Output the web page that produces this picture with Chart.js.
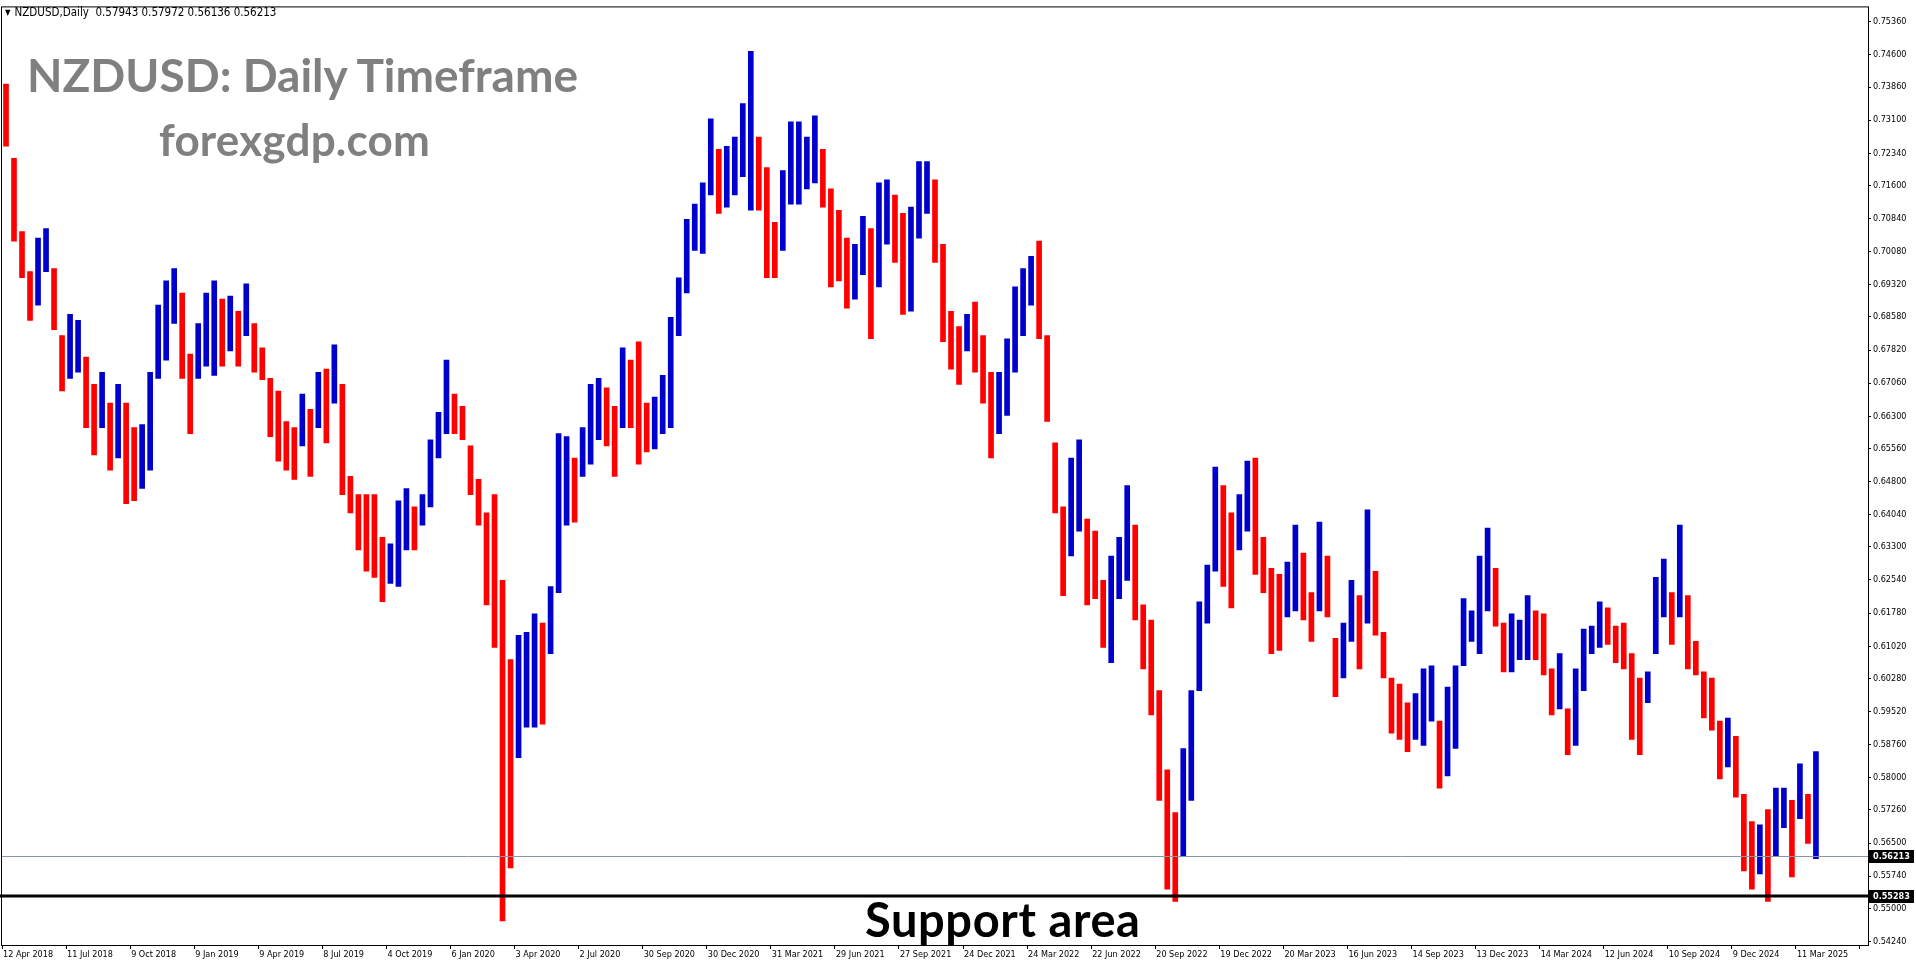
<!DOCTYPE html>
<html>
<head>
<meta charset="utf-8">
<script src="https://cdn.jsdelivr.net/npm/chart.js@4.4.1/dist/chart.umd.min.js"></script>
<style>
  html, body { margin: 0; padding: 0; background: #fff; overflow: hidden; }
  #wrap { position: relative; width: 1916px; height: 964px; }
  canvas { position: absolute; left: 0; top: 0; }
  .txt { position: absolute; white-space: nowrap; line-height: 1; }
  #hdr { left: 5px; top: 5px; font: 11.5px 'DejaVu Sans Condensed', 'DejaVu Sans', sans-serif; color: #000; }
  #hdr .tri { font-size: 8px; margin-right: 4px; vertical-align: 1px; }
  #title { left: 27px; top: 47px; font: bold 46px Lato, sans-serif; color: #808080; }
  #site { left: 159px; top: 113px; font: bold 44px Lato, sans-serif; color: #808080; letter-spacing: 0.2px; }
  #support { left: 865px; top: 891px; font: bold 47px Lato, sans-serif; color: #000; letter-spacing: 0.6px; }
</style>
</head>
<body>
<div id="wrap">
  <canvas id="myChart" width="1916" height="964"></canvas>
  <div class="txt" id="hdr"><span class="tri">&#9660;</span><span id="hdrText"></span></div>
  <div class="txt" id="title">NZDUSD: Daily Timeframe</div>
  <div class="txt" id="site">forexgdp.com</div>
  <div class="txt" id="support">Support area</div>
</div>
<script>
// date labels of the bottom axis (one every 8 points)
const dateLabels = ["12 Apr 2018", "11 Jul 2018", "9 Oct 2018", "9 Jan 2019", "9 Apr 2019", "8 Jul 2019",
  "4 Oct 2019", "6 Jan 2020", "3 Apr 2020", "2 Jul 2020", "30 Sep 2020", "30 Dec 2020", "31 Mar 2021",
  "29 Jun 2021", "27 Sep 2021", "24 Dec 2021", "24 Mar 2022", "22 Jun 2022", "20 Sep 2022", "19 Dec 2022",
  "20 Mar 2023", "16 Jun 2023", "14 Sep 2023", "13 Dec 2023", "14 Mar 2024", "12 Jun 2024", "10 Sep 2024",
  "9 Dec 2024", "11 Mar 2025"];

// price labels of the right axis
const priceTicks = [0.75360, 0.74600, 0.73860, 0.73100, 0.72340, 0.71600, 0.70840, 0.70080, 0.69320,
  0.68580, 0.67820, 0.67060, 0.66300, 0.65560, 0.64800, 0.64040, 0.63300, 0.62540, 0.61780, 0.61020,
  0.60280, 0.59520, 0.58760, 0.58000, 0.57260, 0.56500, 0.55740, 0.55000, 0.54240];

// high / low of each block of ~8 daily bars
const highs = [
  0.7393, 0.7222, 0.7054, 0.6962, 0.7039, 0.7061, 0.6969, 0.6815, 0.6864, 0.6850,
  0.6766, 0.6703, 0.6731, 0.6660, 0.6703, 0.6660, 0.6604, 0.6611, 0.6731, 0.6885,
  0.6941, 0.6969, 0.6913, 0.6773, 0.6843, 0.6913, 0.6941, 0.6899, 0.6906, 0.6871,
  0.6934, 0.6843, 0.6787, 0.6717, 0.6688, 0.6618, 0.6604, 0.6681, 0.6646, 0.6731,
  0.6738,
  0.6794, 0.6703, 0.6492, 0.6450, 0.6450, 0.6450, 0.6352, 0.6337, 0.6436, 0.6464,
  0.6422, 0.6450, 0.6576, 0.6639, 0.6759, 0.6681, 0.6653, 0.6562, 0.6485, 0.6408,
  0.6450, 0.6253, 0.6071, 0.6127, 0.6134, 0.6176, 0.6155, 0.6239, 0.6590, 0.6583,
  0.6534, 0.6604, 0.6703, 0.6717, 0.6695, 0.6653, 0.6787, 0.6759, 0.6801, 0.6660,
  0.6674, 0.6724, 0.6857, 0.6948, 0.7082, 0.7117, 0.7166, 0.7313, 0.7243, 0.7250,
  0.7271, 0.7348, 0.7468, 0.7271, 0.7201, 0.7075, 0.7194, 0.7306, 0.7306, 0.7271,
  0.7320, 0.7243, 0.7152, 0.7103, 0.7039, 0.7025, 0.7089, 0.7061, 0.7166, 0.7173,
  0.7138, 0.7096, 0.7110, 0.7215, 0.7215, 0.7173, 0.7025, 0.6871, 0.6836, 0.6864,
  0.6892, 0.6815, 0.6731, 0.6731, 0.6808, 0.6927, 0.6969, 0.6997, 0.7032, 0.6815,
  0.6569, 0.6422, 0.6534, 0.6576, 0.6394, 0.6366, 0.6253, 0.6309, 0.6352, 0.6471,
  0.6380, 0.6197, 0.6162, 0.6000, 0.5818, 0.5720, 0.5867, 0.6000, 0.6204, 0.6288,
  0.6513, 0.6471, 0.6408, 0.6450, 0.6527, 0.6534, 0.6352, 0.6281, 0.6267, 0.6295,
  0.6380, 0.6316, 0.6225, 0.6387, 0.6309, 0.6120, 0.6155, 0.6253, 0.6218, 0.6415,
  0.6274, 0.6134, 0.6029, 0.6015, 0.5972, 0.5993, 0.6050, 0.6057, 0.5930, 0.6008,
  0.6057, 0.6211, 0.6183, 0.6309, 0.6373, 0.6281, 0.6155, 0.6176, 0.6162, 0.6218,
  0.6183, 0.6176, 0.6050, 0.6085, 0.5958, 0.6050, 0.6141, 0.6148, 0.6204, 0.6190,
  0.6148, 0.6155, 0.6085, 0.6029, 0.6043, 0.6260, 0.6302, 0.6225, 0.6380, 0.6218,
  0.6113, 0.6043, 0.6029, 0.5930, 0.5937, 0.5895, 0.5762, 0.5699, 0.5692, 0.5727,
  0.5776, 0.5776, 0.5748, 0.5832, 0.5762, 0.5860
];
const lows = [
  0.7250, 0.7032, 0.6948, 0.6850, 0.6885, 0.6962, 0.6829, 0.6688, 0.6717, 0.6731,
  0.6604, 0.6541, 0.6604, 0.6506, 0.6534, 0.6429, 0.6436, 0.6464, 0.6506, 0.6717,
  0.6759, 0.6843, 0.6717, 0.6590, 0.6717, 0.6745, 0.6724, 0.6745, 0.6780, 0.6745,
  0.6815, 0.6731, 0.6714, 0.6583, 0.6527, 0.6506, 0.6485, 0.6562, 0.6492, 0.6604,
  0.6569,
  0.6660, 0.6450, 0.6408, 0.6323, 0.6274, 0.6260, 0.6204, 0.6246, 0.6239, 0.6323,
  0.6323, 0.6380, 0.6422, 0.6534, 0.6590, 0.6590, 0.6576, 0.6450, 0.6380, 0.6197,
  0.6099, 0.5471, 0.5593, 0.5846, 0.5916, 0.5916, 0.5923, 0.6085, 0.6225, 0.6380,
  0.6387, 0.6492, 0.6520, 0.6576, 0.6562, 0.6492, 0.6604, 0.6604, 0.6520, 0.6548,
  0.6555, 0.6590, 0.6604, 0.6815, 0.6913, 0.7011, 0.7004, 0.7138, 0.7096, 0.7110,
  0.7138, 0.7180, 0.7103, 0.7103, 0.6948, 0.6948, 0.7011, 0.7117, 0.7117, 0.7152,
  0.7166, 0.7110, 0.6927, 0.6941, 0.6878, 0.6899, 0.6955, 0.6808, 0.6927, 0.7025,
  0.6983, 0.6864, 0.6871, 0.7039, 0.7096, 0.6983, 0.6801, 0.6738, 0.6703, 0.6780,
  0.6731, 0.6660, 0.6534, 0.6590, 0.6632, 0.6731, 0.6815, 0.6885, 0.6808, 0.6618,
  0.6408, 0.6218, 0.6309, 0.6366, 0.6197, 0.6211, 0.6099, 0.6064, 0.6211, 0.6253,
  0.6162, 0.6050, 0.5944, 0.5748, 0.5544, 0.5516, 0.5621, 0.5748, 0.6000, 0.6155,
  0.6274, 0.6239, 0.6190, 0.6323, 0.6366, 0.6267, 0.6225, 0.6085, 0.6092, 0.6169,
  0.6183, 0.6162, 0.6113, 0.6183, 0.6169, 0.5986, 0.6029, 0.6113, 0.6050, 0.6155,
  0.6127, 0.6029, 0.5902, 0.5888, 0.5860, 0.5888, 0.5874, 0.5930, 0.5776, 0.5804,
  0.5867, 0.6057, 0.6113, 0.6085, 0.6183, 0.6148, 0.6043, 0.6043, 0.6071, 0.6071,
  0.6071, 0.6036, 0.5944, 0.5958, 0.5853, 0.5874, 0.6000, 0.6085, 0.6099, 0.6106,
  0.6064, 0.6050, 0.5888, 0.5853, 0.5972, 0.6085, 0.6169, 0.6106, 0.6169, 0.6050,
  0.6036, 0.5937, 0.5909, 0.5797, 0.5825, 0.5755, 0.5586, 0.5544, 0.5579, 0.5516,
  0.5621, 0.5685, 0.5572, 0.5706, 0.5649, 0.5614
];

const symbolName = "NZDUSD,Daily";
const lastOHLC = [0.57943, 0.57972, 0.56136, 0.56213];
const currentPrice = 0.56213;
const supportLevel = 0.55283;

const pointsPerLabel = 8;
const slotCount = 233;   // a few empty slots on the right, like the terminal
const upColor = "#0000cd";
const downColor = "#ff0000";
const tickFont = { family: "'DejaVu Sans Condensed', 'DejaVu Sans', sans-serif", size: 9 };

document.getElementById("hdrText").textContent =
  symbolName + "\u00A0 " + lastOHLC.map(v => v.toFixed(5)).join(" ");

const labels = [];
for (let i = 0; i < slotCount; i++) {
  const k = i / pointsPerLabel;
  labels.push(i % pointsPerLabel === 0 && dateLabels[k] ? dateLabels[k] : "");
}

const ranges = lows.map((l, i) => [l, highs[i]]);
const barColors = ranges.map((r, i) => {
  if (i === 0) return downColor;
  const mid = (r[0] + r[1]) / 2;
  const prev = (ranges[i - 1][0] + ranges[i - 1][1]) / 2;
  return mid >= prev ? upColor : downColor;
});

// frame, price line, support line and the marker boxes on the axis
const overlayPlugin = {
  id: "overlay",
  afterDatasetsDraw(chart) {
    const { ctx, chartArea: a, scales: { y } } = chart;
    ctx.save();
    const yc = Math.round(y.getPixelForValue(currentPrice)) + 0.5;
    ctx.strokeStyle = "#8a94a2";
    ctx.lineWidth = 1;
    ctx.beginPath(); ctx.moveTo(a.left, yc); ctx.lineTo(a.right, yc); ctx.stroke();

    const ys = Math.round(y.getPixelForValue(supportLevel));
    ctx.strokeStyle = "#000";
    ctx.lineWidth = 3;
    ctx.beginPath(); ctx.moveTo(0, ys); ctx.lineTo(a.right, ys); ctx.stroke();
    ctx.restore();
  },
  afterDraw(chart) {
    const { ctx, chartArea: a, scales: { y } } = chart;
    ctx.save();
    ctx.strokeStyle = "#000";
    ctx.lineWidth = 1;
    ctx.strokeRect(a.left - 0.5, a.top - 0.5, a.right - a.left + 1, a.bottom - a.top + 1);

    ctx.font = "bold 9px 'DejaVu Sans Condensed', 'DejaVu Sans', sans-serif";
    ctx.textBaseline = "middle";
    ctx.textAlign = "left";
    [currentPrice, supportLevel].forEach(v => {
      const py = Math.round(y.getPixelForValue(v));
      ctx.fillStyle = "#000";
      ctx.fillRect(a.right + 1, py - 6, 45, 13);
      ctx.fillStyle = "#fff";
      ctx.fillText(v.toFixed(5), a.right + 5, py + 0.5);
    });
    ctx.restore();
  }
};

const ctx = document.getElementById("myChart").getContext("2d");
const myChart = new Chart(ctx, {
  type: "bar",
  data: {
    labels: labels,
    datasets: [{
      label: "NZDUSD",
      data: ranges,
      backgroundColor: barColors,
      borderWidth: 0,
      barThickness: 5
    }]
  },
  options: {
    responsive: false,
    animation: false,
    devicePixelRatio: 1,
    layout: { padding: { left: 2, top: 2, right: 0, bottom: 0 } },
    plugins: {
      legend: { display: false },
      tooltip: { enabled: false }
    },
    scales: {
      x: {
        grid: {
          drawOnChartArea: false,
          tickLength: 4,
          color: c => (c.index % pointsPerLabel === 0 ? "#000" : "rgba(0,0,0,0)")
        },
        border: { color: "#000", width: 1 },
        ticks: {
          autoSkip: false,
          maxRotation: 0,
          minRotation: 0,
          align: "start",
          labelOffset: -3,
          padding: 0,
          color: "#000",
          font: tickFont
        },
        afterFit: scale => { scale.height = 19; }
      },
      y: {
        position: "right",
        min: 0.54158,
        max: 0.75688,
        grid: { drawOnChartArea: false, tickLength: 3, color: "#000" },
        border: { color: "#000", width: 1 },
        afterBuildTicks: scale => { scale.ticks = priceTicks.map(v => ({ value: v })); },
        ticks: {
          padding: 2,
          color: "#000",
          font: tickFont,
          callback: v => Number(v).toFixed(5)
        },
        afterFit: scale => { scale.width = 48; }
      }
    }
  },
  plugins: [overlayPlugin]
});
</script>
</body>
</html>
